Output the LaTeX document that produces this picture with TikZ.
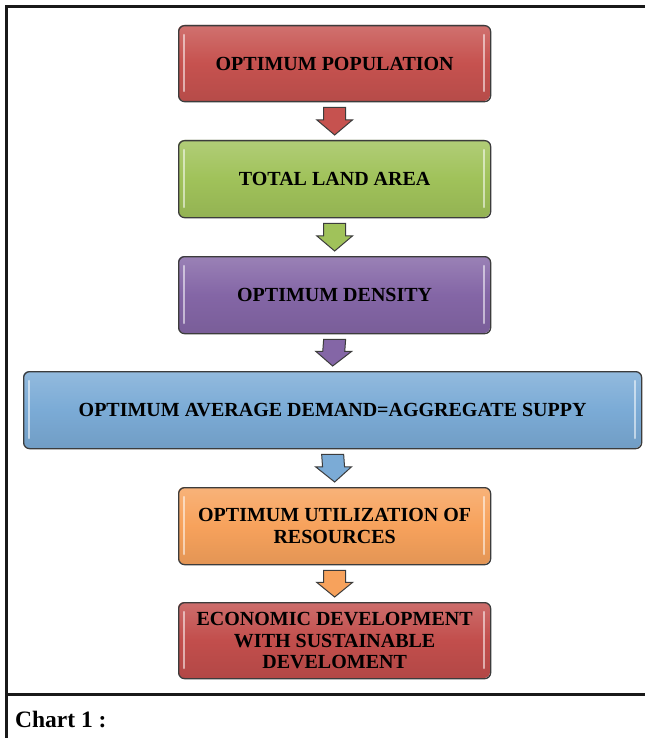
\documentclass[tikz,border=0pt]{standalone}
\usepackage{fontspec}
\setmainfont{Liberation Serif}
\usetikzlibrary{calc}
\definecolor{cred}{RGB}{198,82,79}
\definecolor{cgreen}{RGB}{160,194,90}
\definecolor{cpurple}{RGB}{132,102,166}
\definecolor{cblue}{RGB}{123,171,214}
\definecolor{corange}{RGB}{247,162,92}
\definecolor{cred2}{RGB}{194,78,76}
\definecolor{cedge}{RGB}{60,60,60}
\tikzset{
  frame/.style={line width=3pt, black!90},
  downarrow/.style={draw=cedge, line width=1pt, fill=#1, line join=miter},
  boxtext/.style={font=\bfseries\fontsize{20}{21.5}\selectfont, align=center},
}
\newcommand{\flowbox}[7]{% name, x1, y1, x2, y2, color, text
  \shade[rounded corners=6pt, top color=#6!82!white, bottom color=#6!92!black, middle color=#6]
    (#2,#3) rectangle (#4,#5);
  \draw[white, opacity=0.55, line width=2.5pt, line cap=round] (#2+6,#3+10) -- (#2+6,#5-10);
  \draw[white, opacity=0.55, line width=2.5pt, line cap=round] (#4-6,#3+10) -- (#4-6,#5-10);
  \node[draw=cedge, line width=1.3pt, rounded corners=6pt, inner sep=0pt,
    minimum width=#4-#2, minimum height=#5-#3, anchor=north west, boxtext] (#1) at (#2,#3) {#7};
}
\newcommand{\darrow}[3]{% from node, to node, color
  \path ($(#1.south)+(0,5)$) coordinate (a1) ($(#2.north)+(0,-5)$) coordinate (a2);
  \draw[downarrow=#3]
    ($(a1)+(-11,0)$) -- ($(a1)+(11,0)$) -- ($(a1)!0.45!(a2)+(11,0)$) -- ($(a1)!0.45!(a2)+(18,0)$)
    -- (a2) -- ($(a1)!0.45!(a2)+(-18,0)$) -- ($(a1)!0.45!(a2)+(-11,0)$) -- cycle;
}
\begin{document}
\begin{tikzpicture}[x=1pt,y=-1pt]
\useasboundingbox (0,0) rectangle (645,738);
\fill[white] (0,0) rectangle (645,738);
% frame
\draw[frame] (6,738) -- (6,7) -- (645,7);
\draw[frame] (6,694) -- (645,694);
% boxes
\flowbox{b1}{178}{25}{490}{101}{cred}{OPTIMUM POPULATION}
\flowbox{b2}{178}{140}{490}{217}{cgreen}{TOTAL LAND AREA}
\flowbox{b3}{178}{256}{490}{333}{cpurple}{OPTIMUM DENSITY}
\flowbox{b4}{23}{371}{641}{448}{cblue}{OPTIMUM AVERAGE DEMAND=AGGREGATE SUPPY}
\flowbox{b5}{178}{487}{490}{564}{corange}{OPTIMUM UTILIZATION OF\\RESOURCES}
\flowbox{b6}{178}{602}{490}{678}{cred2}{ECONOMIC DEVELOPMENT\\WITH SUSTAINABLE\\DEVELOMENT}
% arrows
\darrow{b1}{b2}{cred}
\darrow{b2}{b3}{cgreen}
\darrow{b3}{b4}{cpurple}
\darrow{b4}{b5}{cblue}
\darrow{b5}{b6}{corange}
% caption
\node[anchor=base west, font=\bfseries\fontsize{23.5}{23.5}\selectfont, inner sep=0pt] (cap) at (15,727) {Chart 1 :};
\end{tikzpicture}
\end{document}
